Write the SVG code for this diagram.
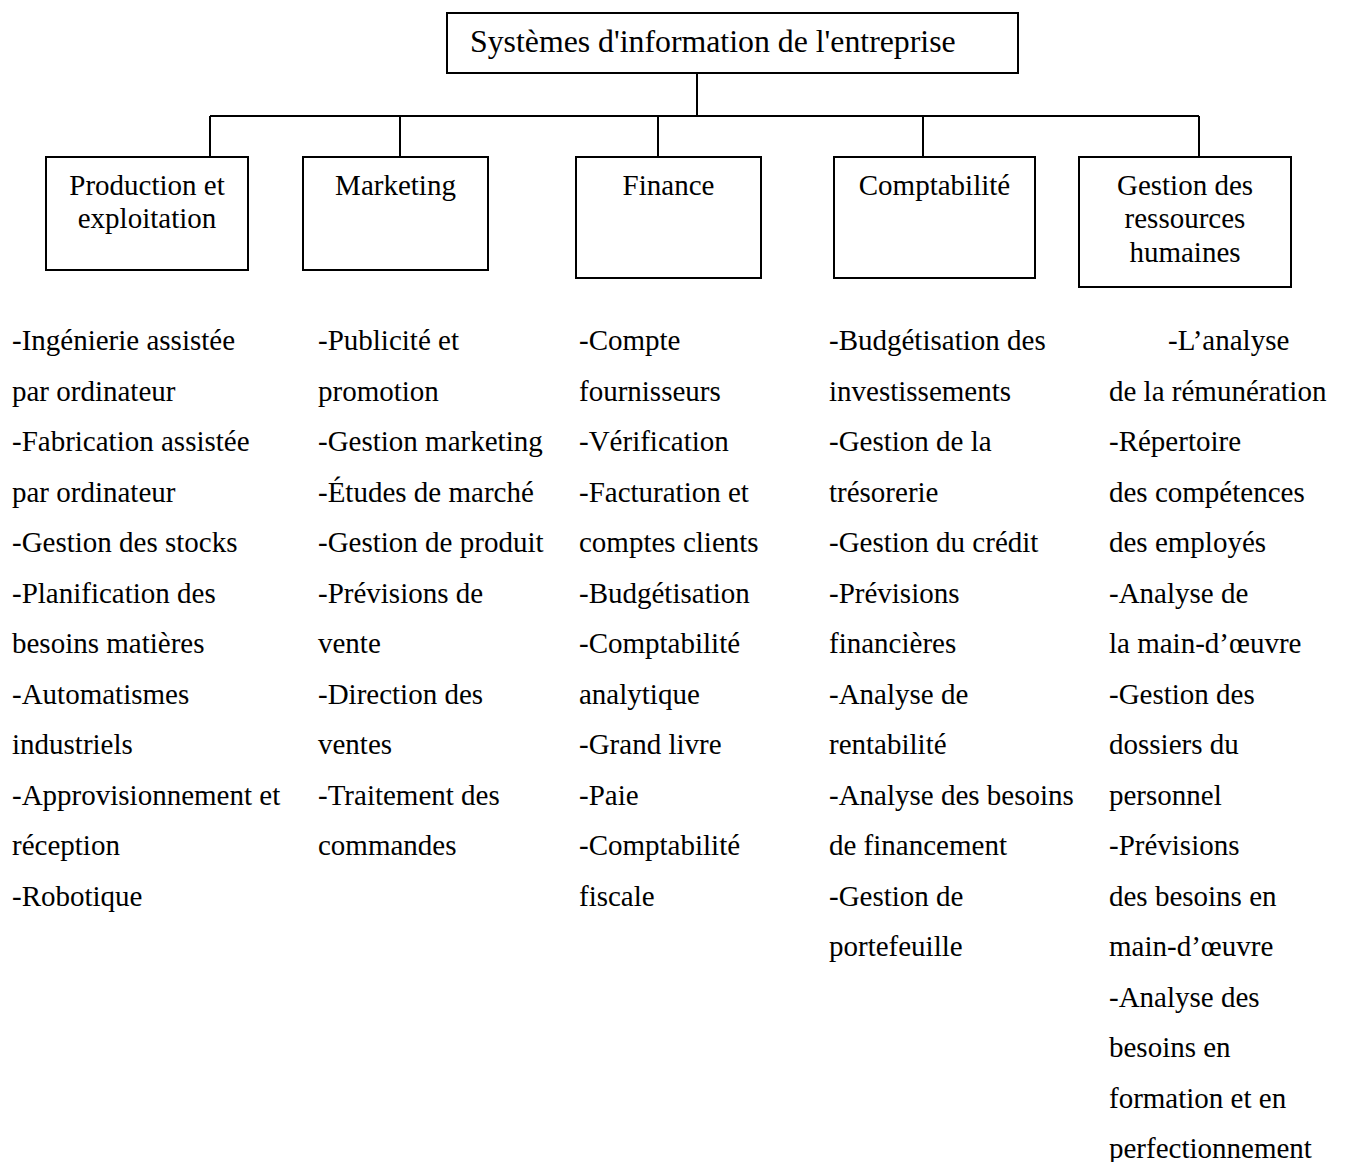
<svg xmlns="http://www.w3.org/2000/svg" width="1345" height="1162" viewBox="0 0 1345 1162">
  <style>
    .box { fill: #ffffff; stroke: #000000; stroke-width: 2; }
    .wire { fill: none; stroke: #000000; stroke-width: 2; }
    .lbl { font-family: "Liberation Serif", "Times New Roman", serif; font-size: 29px; fill: #000000; }
    .mid { text-anchor: middle; }
    .title { font-size: 31.8px; }
  </style>
  <rect width="1345" height="1162" fill="#ffffff"/>

  <!-- tree connectors -->
  <g id="connectors">
    <path class="wire" d="M697 73 V116"/>
    <path class="wire" d="M210 116 H1199"/>
    <path class="wire" d="M210 116 V157"/>
    <path class="wire" d="M400 116 V157"/>
    <path class="wire" d="M658 116 V157"/>
    <path class="wire" d="M923 116 V157"/>
    <path class="wire" d="M1199 116 V157"/>
  </g>

  <g id="root">
    <rect class="box" x="447" y="13" width="571" height="60"/>
    <text class="lbl title" x="470" y="52">Systèmes d'information de l'entreprise</text>
  </g>

  <g id="production">
    <rect class="box" x="46" y="157" width="202" height="113"/>
    <text class="lbl mid" x="147" y="195">Production et</text>
    <text class="lbl mid" x="147" y="228">exploitation</text>
  </g>

  <g id="marketing">
    <rect class="box" x="303" y="157" width="185" height="113"/>
    <text class="lbl mid" x="395.5" y="195">Marketing</text>
  </g>

  <g id="finance">
    <rect class="box" x="576" y="157" width="185" height="121"/>
    <text class="lbl mid" x="668.5" y="195">Finance</text>
  </g>

  <g id="comptabilite">
    <rect class="box" x="834" y="157" width="201" height="121"/>
    <text class="lbl mid" x="934.5" y="195">Comptabilité</text>
  </g>

  <g id="rh">
    <rect class="box" x="1079" y="157" width="212" height="130"/>
    <text class="lbl mid" x="1185" y="195">Gestion des</text>
    <text class="lbl mid" x="1185" y="228">ressources</text>
    <text class="lbl mid" x="1185" y="262">humaines</text>
  </g>

  <!-- activity lists under each function -->
  <g id="list-production" class="lbl">
    <text x="12" y="350">-Ingénierie assistée</text>
    <text x="12" y="400.5">par ordinateur</text>
    <text x="12" y="451">-Fabrication assistée</text>
    <text x="12" y="501.5">par ordinateur</text>
    <text x="12" y="552">-Gestion des stocks</text>
    <text x="12" y="602.5">-Planification des</text>
    <text x="12" y="653">besoins matières</text>
    <text x="12" y="703.5">-Automatismes</text>
    <text x="12" y="754">industriels</text>
    <text x="12" y="804.5">-Approvisionnement et</text>
    <text x="12" y="855">réception</text>
    <text x="12" y="905.5">-Robotique</text>
  </g>

  <g id="list-marketing" class="lbl">
    <text x="318" y="350">-Publicité et</text>
    <text x="318" y="400.5">promotion</text>
    <text x="318" y="451">-Gestion marketing</text>
    <text x="318" y="501.5">-Études de marché</text>
    <text x="318" y="552">-Gestion de produit</text>
    <text x="318" y="602.5">-Prévisions de</text>
    <text x="318" y="653">vente</text>
    <text x="318" y="703.5">-Direction des</text>
    <text x="318" y="754">ventes</text>
    <text x="318" y="804.5">-Traitement des</text>
    <text x="318" y="855">commandes</text>
  </g>

  <g id="list-finance" class="lbl">
    <text x="579" y="350">-Compte</text>
    <text x="579" y="400.5">fournisseurs</text>
    <text x="579" y="451">-Vérification</text>
    <text x="579" y="501.5">-Facturation et</text>
    <text x="579" y="552">comptes clients</text>
    <text x="579" y="602.5">-Budgétisation</text>
    <text x="579" y="653">-Comptabilité</text>
    <text x="579" y="703.5">analytique</text>
    <text x="579" y="754">-Grand livre</text>
    <text x="579" y="804.5">-Paie</text>
    <text x="579" y="855">-Comptabilité</text>
    <text x="579" y="905.5">fiscale</text>
  </g>

  <g id="list-comptabilite" class="lbl">
    <text x="829" y="350">-Budgétisation des</text>
    <text x="829" y="400.5">investissements</text>
    <text x="829" y="451">-Gestion de la</text>
    <text x="829" y="501.5">trésorerie</text>
    <text x="829" y="552">-Gestion du crédit</text>
    <text x="829" y="602.5">-Prévisions</text>
    <text x="829" y="653">financières</text>
    <text x="829" y="703.5">-Analyse de</text>
    <text x="829" y="754">rentabilité</text>
    <text x="829" y="804.5">-Analyse des besoins</text>
    <text x="829" y="855">de financement</text>
    <text x="829" y="905.5">-Gestion de</text>
    <text x="829" y="956">portefeuille</text>
  </g>

  <g id="list-rh" class="lbl">
    <text x="1168" y="350">-L’analyse</text>
    <text x="1109" y="400.5">de la rémunération</text>
    <text x="1109" y="451">-Répertoire</text>
    <text x="1109" y="501.5">des compétences</text>
    <text x="1109" y="552">des employés</text>
    <text x="1109" y="602.5">-Analyse de</text>
    <text x="1109" y="653">la main-d’œuvre</text>
    <text x="1109" y="703.5">-Gestion des</text>
    <text x="1109" y="754">dossiers du</text>
    <text x="1109" y="804.5">personnel</text>
    <text x="1109" y="855">-Prévisions</text>
    <text x="1109" y="905.5">des besoins en</text>
    <text x="1109" y="956">main-d’œuvre</text>
    <text x="1109" y="1006.5">-Analyse des</text>
    <text x="1109" y="1057">besoins en</text>
    <text x="1109" y="1107.5">formation et en</text>
    <text x="1109" y="1158">perfectionnement</text>
  </g>
</svg>
